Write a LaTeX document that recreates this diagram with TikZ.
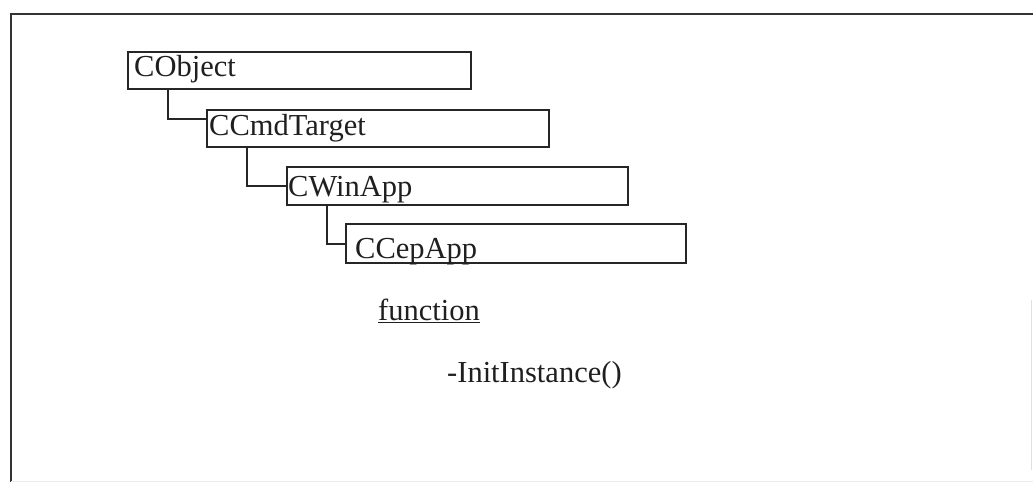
\documentclass[tikz,border=0pt]{standalone}
\usepackage{fontspec}
\setmainfont{Liberation Serif}
\begin{document}
\begin{tikzpicture}[x=1pt,y=-1pt,
  classbox/.style={draw=black!85, line width=2pt, anchor=north west, inner sep=0pt, outer sep=0pt},
  link/.style={draw=black!85, line width=2pt},
  lbl/.style={anchor=base west, inner sep=0pt, font=\fontsize{30.5}{36}\selectfont, text=black!88}]
  \useasboundingbox (0,0) rectangle (1033,482);
  % outer frame
  \draw[black!80, line width=2pt] (1033,14) -- (11,14) -- (11,482);
  \draw[black!12, line width=1pt] (1031,300) -- (1031,470);
  \draw[black!8, line width=1pt] (11,481) -- (1033,481);
  % class hierarchy boxes
  \node[classbox, minimum width=343pt, minimum height=37pt] (obj) at (128,52) {};
  \node[classbox, minimum width=342pt, minimum height=37pt] (cmd) at (207,110) {};
  \node[classbox, minimum width=341pt, minimum height=38pt] (win) at (287,167) {};
  \node[classbox, minimum width=340pt, minimum height=39pt] (cep) at (346,224) {};
  % labels
  \node[lbl] (tObj) at (134,76) {CObject};
  \node[lbl] (tCmd) at (209,135) {CCmdTarget};
  \node[lbl] (tWin) at (288,196) {CWinApp};
  \node[lbl] (tCep) at (355,258) {CCepApp};
  % inheritance connectors
  \draw[link] ([xshift=40pt]obj.south west) |- ([yshift=10pt]cmd.west);
  \draw[link] ([xshift=40pt]cmd.south west) |- (win.west);
  \draw[link] ([xshift=40pt]win.south west) |- (cep.west);
  % member list
  \node[lbl] (fn) at (378,320) {\underline{function}};
  \node[lbl] (init) at (447,382) {-InitInstance()};
\end{tikzpicture}
\end{document}
